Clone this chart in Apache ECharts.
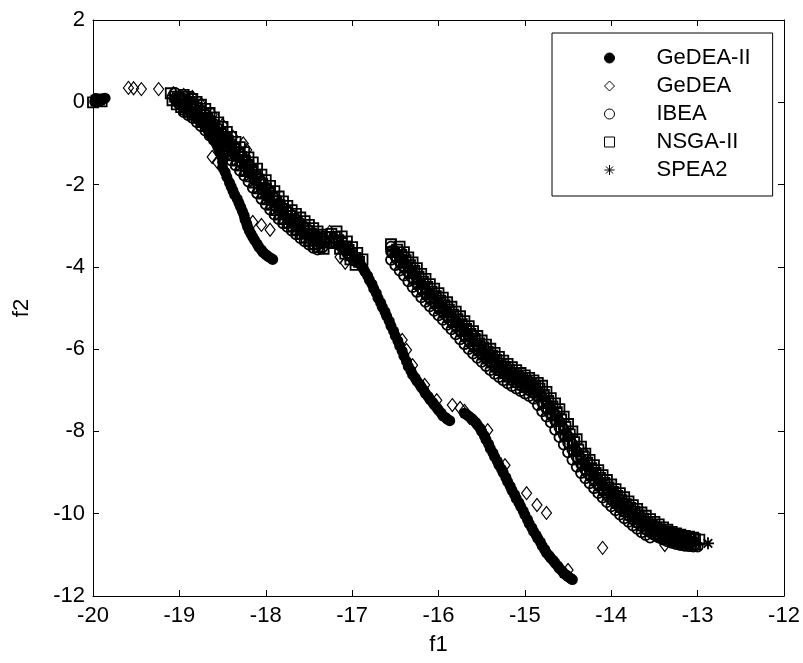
<!DOCTYPE html>
<html>
<head>
<meta charset="utf-8">
<script src="https://cdn.jsdelivr.net/npm/echarts@6/dist/echarts.min.js"></script>
<style>
html,body{margin:0;padding:0;background:#fff;}
#chart{width:803px;height:663px;}
</style>
</head>
<body>
<div id="chart"></div>
<script>
// ---------- data ----------
const seriesNames = ['GeDEA-II', 'GeDEA', 'IBEA', 'NSGA-II', 'SPEA2'];
const xTicks = { min: -20, max: -12, step: 1 };
const yTicks = { min: -12, max: 2, step: 2 };

const gedea2Points = [
  [-19.98,0.02],[-19.95,0.06],[-19.92,0.03],[-19.89,0.08],[-19.86,0.10],[-19.97,0.09],
  [-19.02,-0.02],[-18.97,-0.08],[-18.93,-0.14],[-18.89,-0.20],[-18.85,-0.27],[-18.81,-0.35],
  [-18.77,-0.43],[-18.73,-0.52],[-18.69,-0.62],[-18.66,-0.72],[-18.63,-0.82],[-18.60,-0.92],
  [-18.57,-1.02],[-18.55,-1.12],[-18.53,-1.22],[-18.51,-1.32],[-18.50,-1.45],
  [-18.90,-0.05],[-18.80,-0.20],[-18.70,-0.40],[-18.60,-0.62],[-18.50,-0.85],[-18.45,-1.00],[-18.40,-1.10],
  [-18.50,-1.58],[-18.47,-1.70],[-18.45,-1.82],[-18.42,-1.95],[-18.40,-2.05],[-18.38,-2.15],
  [-18.36,-2.25],[-18.33,-2.35],[-18.31,-2.45],[-18.29,-2.55],[-18.27,-2.65],[-18.25,-2.75],
  [-18.24,-2.85],[-18.22,-2.95],[-18.21,-3.03],[-18.19,-3.12],[-18.17,-3.20],[-18.15,-3.28],
  [-18.13,-3.35],[-18.10,-3.44],[-18.08,-3.52],[-18.05,-3.59],[-18.03,-3.65],[-18.00,-3.70],
  [-17.97,-3.75],[-17.94,-3.79],[-17.92,-3.82],
  [-16.95,-3.82],[-16.92,-3.89],[-16.90,-3.95],[-16.87,-4.04],[-16.85,-4.12],[-16.82,-4.22],
  [-16.80,-4.32],[-16.77,-4.42],[-16.75,-4.53],[-16.72,-4.64],[-16.70,-4.76],[-16.67,-4.87],
  [-16.65,-4.98],[-16.62,-5.09],[-16.60,-5.20],[-16.57,-5.32],[-16.55,-5.44],[-16.52,-5.56],
  [-16.50,-5.68],[-16.47,-5.80],[-16.45,-5.92],[-16.42,-6.05],[-16.40,-6.17],[-16.37,-6.30],
  [-16.35,-6.42],[-16.32,-6.52],[-16.30,-6.62],[-16.27,-6.70],[-16.25,-6.78],[-16.22,-6.85],
  [-16.20,-6.92],[-16.17,-7.00],[-16.15,-7.08],[-16.12,-7.15],[-16.10,-7.22],[-16.07,-7.29],
  [-16.05,-7.35],[-16.02,-7.42],[-16.00,-7.48],[-15.97,-7.55],[-15.95,-7.62],[-15.92,-7.66],
  [-15.90,-7.70],[-15.87,-7.74],
  [-15.70,-7.56],[-15.67,-7.60],[-15.65,-7.63],[-15.62,-7.68],[-15.60,-7.72],[-15.57,-7.78],
  [-15.55,-7.84],[-15.52,-7.92],[-15.50,-8.00],[-15.47,-8.10],[-15.45,-8.20],[-15.42,-8.31],
  [-15.40,-8.42],[-15.37,-8.52],[-15.35,-8.62],[-15.32,-8.72],[-15.30,-8.82],[-15.27,-8.92],
  [-15.25,-9.01],[-15.22,-9.12],[-15.20,-9.22],[-15.17,-9.33],[-15.15,-9.43],[-15.12,-9.53],
  [-15.10,-9.63],[-15.07,-9.73],[-15.05,-9.82],[-15.02,-9.93],[-15.00,-10.03],[-14.97,-10.14],
  [-14.95,-10.24],[-14.92,-10.34],[-14.90,-10.43],[-14.87,-10.52],[-14.85,-10.60],[-14.82,-10.69],
  [-14.80,-10.78],[-14.77,-10.87],[-14.75,-10.95],[-14.72,-11.02],[-14.70,-11.08],[-14.67,-11.14],
  [-14.65,-11.20],[-14.62,-11.27],[-14.60,-11.33],[-14.57,-11.39],[-14.55,-11.45],[-14.52,-11.49],
  [-14.50,-11.53],[-14.47,-11.57],[-14.45,-11.60]
];

const gedeaPoints = [
  [-19.59,0.35],[-19.53,0.34],[-19.44,0.32],[-19.24,0.32],[-19.07,0.22],[-18.95,0.18],
  [-18.85,0.13],[-18.75,-0.05],[-18.62,-0.30],[-18.50,-0.55],[-18.38,-0.84],[-18.26,-1.00],
  [-18.22,-1.16],[-18.62,-1.33],[-18.56,-1.45],[-18.18,-1.57],[-18.10,-1.80],[-17.95,-2.13],
  [-17.84,-2.45],[-17.72,-2.67],[-18.15,-2.91],[-18.05,-2.98],[-17.95,-3.10],[-17.62,-3.00],
  [-17.52,-3.15],[-17.41,-3.23],[-17.26,-3.15],[-17.14,-3.76],[-17.08,-3.90],
  [-16.42,-5.78],[-16.37,-6.02],[-16.30,-6.39],[-16.16,-6.87],[-16.02,-7.24],
  [-15.84,-7.36],[-15.75,-7.43],[-15.70,-7.50],[-15.64,-7.67],[-15.43,-7.97],[-15.23,-8.82],
  [-14.98,-9.50],[-14.86,-9.79],[-14.75,-9.98],[-14.10,-10.83],[-14.50,-11.37],[-13.38,-10.76],
  [-16.40,-3.70],[-15.60,-5.65],[-14.90,-6.88],[-14.30,-8.55],[-13.20,-10.58]
];

const ibeaUpperBand = [
  [-19.00,-0.02],[-18.92,-0.12],[-18.84,-0.25],[-18.76,-0.40],[-18.68,-0.55],[-18.60,-0.72],
  [-18.52,-0.90],[-18.44,-1.08],[-18.36,-1.28],[-18.28,-1.48],[-18.20,-1.68],[-18.12,-1.90],
  [-18.04,-2.12],[-17.96,-2.33],[-17.88,-2.54],[-17.80,-2.72],[-17.72,-2.88],[-17.64,-3.03],
  [-17.56,-3.18],[-17.48,-3.32],[-17.40,-3.45],[-17.34,-3.52],
  [-19.05,0.23],[-18.95,0.09],[-18.85,-0.03],[-18.75,-0.20],[-18.65,-0.41],[-18.55,-0.64],
  [-18.45,-0.88],[-18.35,-1.13],[-18.25,-1.38],[-18.15,-1.65],[-18.05,-1.93],[-17.95,-2.20],
  [-17.85,-2.45],[-17.75,-2.66],[-17.65,-2.84],[-17.55,-3.02],[-17.45,-3.18],[-17.35,-3.31],
  [-19.00,0.14],[-18.90,0.04],[-18.80,-0.10],[-18.70,-0.30],[-18.60,-0.53],[-18.50,-0.76],
  [-18.40,-1.00],[-18.30,-1.25],[-18.20,-1.50],[-18.10,-1.80],[-18.00,-2.07],[-17.90,-2.33],
  [-17.80,-2.56],[-17.70,-2.75],[-17.60,-2.93],[-17.50,-3.10],[-17.40,-3.26],
  [-18.95,-0.24],[-18.90,-0.31],[-18.85,-0.38],[-18.80,-0.48],[-18.75,-0.58],[-18.70,-0.69],
  [-18.65,-0.81],[-18.60,-0.92],[-18.55,-1.04],[-18.50,-1.16],[-18.45,-1.28],[-18.40,-1.41],
  [-18.35,-1.53],[-18.30,-1.66],[-18.25,-1.78],[-18.20,-1.93],[-18.15,-2.08],[-18.10,-2.21],
  [-18.05,-2.35],[-18.00,-2.48],[-17.95,-2.61],[-17.90,-2.73],[-17.85,-2.84],[-17.80,-2.94],
  [-17.75,-3.03],[-17.70,-3.12],[-17.65,-3.21],[-17.60,-3.30],[-17.55,-3.38],[-17.50,-3.46],
  [-17.45,-3.54],[-17.40,-3.58],
  [-17.22,-3.30],[-17.14,-3.48],[-17.06,-3.66],[-16.98,-3.85]
];

const ibeaRightBand = [
  [-16.55,-3.62],[-16.50,-3.75],[-16.45,-3.88],[-16.40,-4.01],[-16.35,-4.14],[-16.30,-4.28],
  [-16.25,-4.41],[-16.20,-4.53],[-16.15,-4.65],[-16.10,-4.76],[-16.05,-4.87],[-16.00,-4.98],
  [-15.95,-5.09],[-15.90,-5.20],[-15.85,-5.32],[-15.80,-5.43],[-15.75,-5.55],[-15.70,-5.67],
  [-15.65,-5.79],[-15.60,-5.91],[-15.55,-6.02],[-15.50,-6.12],[-15.45,-6.22],[-15.40,-6.32],
  [-15.35,-6.42],[-15.30,-6.51],[-15.25,-6.59],[-15.20,-6.67],[-15.15,-6.75],[-15.10,-6.82],
  [-15.05,-6.88],[-15.00,-6.94],[-14.95,-7.00],[-14.90,-7.07],[-14.85,-7.15],[-14.80,-7.30],
  [-14.75,-7.45],[-14.70,-7.58],[-14.65,-7.73],[-14.60,-7.90],[-14.55,-8.08],[-14.50,-8.27],
  [-14.45,-8.45],[-14.40,-8.62],[-14.35,-8.79],[-14.30,-8.94],[-14.25,-9.07],[-14.20,-9.19],
  [-14.15,-9.31],[-14.10,-9.43],[-14.05,-9.54],[-14.00,-9.65],[-13.95,-9.75],[-13.90,-9.85],
  [-13.85,-9.95],[-13.80,-10.04],[-13.75,-10.13],[-13.70,-10.22],[-13.65,-10.30],[-13.60,-10.38],
  [-13.55,-10.45],[-13.50,-10.52],[-13.45,-10.58],[-13.40,-10.63],[-13.35,-10.67],[-13.30,-10.71],
  [-13.25,-10.74],[-13.20,-10.76],[-13.15,-10.78],[-13.10,-10.79],[-13.05,-10.80],[-13.00,-10.80],
  [-16.55,-3.51],[-16.50,-3.63],[-16.45,-3.76],[-16.40,-3.89],[-16.35,-4.01],[-16.30,-4.15],
  [-16.25,-4.29],[-16.20,-4.41],[-16.15,-4.54],[-16.10,-4.65],[-16.05,-4.76],[-16.00,-4.87],
  [-15.95,-4.98],[-15.90,-5.09],[-15.85,-5.21],[-15.80,-5.32],[-15.75,-5.44],[-15.70,-5.56],
  [-15.65,-5.68],[-15.60,-5.80],[-15.55,-5.91],[-15.50,-6.01],[-15.45,-6.11],[-15.40,-6.21],
  [-15.35,-6.31],[-15.30,-6.40],[-15.25,-6.48],[-15.20,-6.56],[-15.15,-6.63],[-15.10,-6.70],
  [-15.05,-6.76],[-15.00,-6.82],[-14.95,-6.88],[-14.90,-6.94],[-14.85,-7.01],[-14.80,-7.16],
  [-14.75,-7.31],[-14.70,-7.44],[-14.65,-7.58],[-14.60,-7.76],[-14.55,-7.94],[-14.50,-8.12],
  [-14.45,-8.31],[-14.40,-8.49],[-14.35,-8.66],[-14.30,-8.81],[-14.25,-8.94],[-14.20,-9.06],
  [-14.15,-9.18],[-14.10,-9.30],[-14.05,-9.41],[-14.00,-9.52],[-13.95,-9.62],[-13.90,-9.72],
  [-13.85,-9.82],[-13.80,-9.91],[-13.75,-10.00],[-13.70,-10.09],[-13.65,-10.17],[-13.60,-10.25],
  [-13.55,-10.32],[-13.50,-10.38],[-13.45,-10.44],[-13.40,-10.49],[-13.35,-10.53],[-13.30,-10.57],
  [-13.25,-10.60],[-13.20,-10.62],[-13.15,-10.64],[-13.10,-10.66],[-13.05,-10.67],
  [-16.55,-3.83],[-16.50,-3.96],[-16.45,-4.09],[-16.40,-4.21],[-16.35,-4.35],[-16.30,-4.49],
  [-16.25,-4.61],[-16.20,-4.74],[-16.15,-4.85],[-16.10,-4.96],[-16.05,-5.07],[-16.00,-5.18],
  [-15.95,-5.29],[-15.90,-5.41],[-15.85,-5.52],[-15.80,-5.64],[-15.75,-5.76],[-15.70,-5.88],
  [-15.65,-6.00],[-15.60,-6.11],[-15.55,-6.21],[-15.50,-6.31],[-15.45,-6.41],[-15.40,-6.51],
  [-15.35,-6.60],[-15.30,-6.68],[-15.25,-6.76],[-15.20,-6.83],[-15.15,-6.90],[-15.10,-6.96],
  [-15.05,-7.02],[-15.00,-7.08],[-14.95,-7.14],[-14.90,-7.21],[-14.85,-7.36],[-14.80,-7.51],
  [-14.75,-7.64],[-14.70,-7.78],[-14.65,-7.96],[-14.60,-8.14],[-14.55,-8.32],[-14.50,-8.51],
  [-14.45,-8.69],[-14.40,-8.86],[-14.35,-9.01],[-14.30,-9.14],[-14.25,-9.26],[-14.20,-9.38],
  [-14.15,-9.50],[-14.10,-9.61],[-14.05,-9.72],[-14.00,-9.82],[-13.95,-9.92],[-13.90,-10.02],
  [-13.85,-10.11],[-13.80,-10.20],[-13.75,-10.29],[-13.70,-10.37],[-13.65,-10.45],[-13.60,-10.52],
  [-13.55,-10.58]
];

const nsga2UpperBand = [
  [-20.00,0.00],[-19.96,0.04],[-19.93,0.07],[-19.90,0.02],
  [-19.10,0.22],[-19.05,0.14],[-19.02,0.10],[-18.98,0.06],[-18.93,0.02],[-18.88,-0.02],
  [-18.84,-0.09],[-18.80,-0.14],[-18.76,-0.22],[-18.72,-0.30],[-18.68,-0.38],[-18.64,-0.47],
  [-18.60,-0.56],[-18.56,-0.66],[-18.52,-0.75],[-18.48,-0.85],[-18.44,-0.94],[-18.40,-1.03],
  [-18.36,-1.13],[-18.32,-1.23],[-18.28,-1.33],[-18.24,-1.43],[-18.20,-1.53],[-18.16,-1.64],
  [-18.12,-1.76],[-18.08,-1.88],[-18.04,-1.99],[-18.00,-2.10],[-17.96,-2.20],[-17.92,-2.31],
  [-17.88,-2.41],[-17.84,-2.50],[-17.80,-2.59],[-17.76,-2.68],[-17.72,-2.76],[-17.68,-2.84],
  [-17.64,-2.92],[-17.60,-2.99],[-17.56,-3.07],[-17.52,-3.14],[-17.48,-3.21],[-17.44,-3.28],
  [-17.40,-3.33],[-17.36,-3.38],[-17.32,-3.41],
  [-19.08,0.05],[-19.03,-0.05],[-18.98,-0.12],[-18.93,-0.17],[-18.88,-0.23],[-18.83,-0.30],
  [-18.78,-0.38],[-18.73,-0.48],[-18.68,-0.58],[-18.63,-0.70],[-18.58,-0.81],[-18.53,-0.93],
  [-18.48,-1.05],[-18.43,-1.17],[-18.38,-1.29],[-18.33,-1.42],[-18.28,-1.54],[-18.23,-1.67],
  [-18.18,-1.80],[-18.13,-1.95],[-18.08,-2.09],[-18.03,-2.22],[-17.98,-2.36],[-17.93,-2.49],
  [-17.88,-2.62],[-17.83,-2.73],[-17.78,-2.84],[-17.73,-2.93],[-17.68,-3.02],[-17.63,-3.11],
  [-17.58,-3.20],[-17.53,-3.29],[-17.48,-3.37],[-17.43,-3.45],[-17.38,-3.52],[-17.33,-3.56],
  [-18.95,0.18],[-18.90,0.13],[-18.85,0.08],[-18.80,0.01],[-18.75,-0.06],[-18.70,-0.16],
  [-18.65,-0.26],[-18.60,-0.37],[-18.55,-0.49],[-18.50,-0.60],[-18.45,-0.72],[-18.40,-0.84],
  [-18.35,-0.96],[-18.30,-1.09],[-18.25,-1.21],[-18.20,-1.34],[-18.15,-1.46],[-18.10,-1.61],
  [-18.05,-1.76],[-18.00,-1.89],[-17.95,-2.03],[-17.90,-2.16],[-17.85,-2.29],[-17.80,-2.41],
  [-17.75,-2.52],[-17.70,-2.62],[-17.65,-2.71],[-17.60,-2.80],[-17.55,-2.89],[-17.50,-2.98],
  [-17.45,-3.06],[-17.40,-3.14],[-17.35,-3.22],[-17.30,-3.27],
  [-17.24,-3.20],[-17.20,-3.27],[-17.16,-3.35],[-17.12,-3.42],[-17.08,-3.50],[-17.04,-3.59],
  [-17.00,-3.68],[-16.96,-3.78],[-16.92,-3.88],[-17.18,-3.38],[-17.10,-3.55],[-17.02,-3.72],
  [-17.26,-3.28],[-17.20,-3.42],[-17.14,-3.56],[-17.08,-3.68],[-17.02,-3.82],[-16.96,-3.95],
  [-17.18,-3.14],[-17.12,-3.26],[-17.06,-3.38],[-17.00,-3.52],[-16.94,-3.66],[-16.88,-3.82]
];

const nsga2RightBand = [
  [-16.55,-3.45],[-16.48,-3.58],[-16.43,-3.71],[-16.38,-3.84],[-16.33,-3.96],[-16.28,-4.10],
  [-16.23,-4.24],[-16.18,-4.36],[-16.13,-4.49],[-16.08,-4.60],[-16.03,-4.71],[-15.98,-4.82],
  [-15.93,-4.93],[-15.88,-5.04],[-15.83,-5.16],[-15.78,-5.27],[-15.73,-5.39],[-15.68,-5.51],
  [-15.63,-5.63],[-15.58,-5.75],[-15.53,-5.86],[-15.48,-5.96],[-15.43,-6.06],[-15.38,-6.16],
  [-15.33,-6.26],[-15.28,-6.35],[-15.23,-6.43],[-15.18,-6.51],[-15.13,-6.58],[-15.08,-6.65],
  [-15.03,-6.71],[-14.98,-6.77],[-14.93,-6.83],[-14.88,-6.89],[-14.83,-6.96],[-14.78,-7.11],
  [-14.73,-7.26],[-14.68,-7.39],[-14.63,-7.53],[-14.58,-7.71],[-14.53,-7.89],[-14.48,-8.07],
  [-14.43,-8.26],[-14.38,-8.44],[-14.33,-8.61],[-14.28,-8.76],[-14.23,-8.89],[-14.18,-9.01],
  [-14.13,-9.13],[-14.08,-9.25],[-14.03,-9.36],[-13.98,-9.47],[-13.93,-9.57],[-13.88,-9.67],
  [-13.83,-9.77],[-13.78,-9.86],[-13.73,-9.95],[-13.68,-10.04],[-13.63,-10.12],[-13.58,-10.20],
  [-13.53,-10.27],[-13.48,-10.33],[-13.43,-10.39],[-13.38,-10.44],[-13.33,-10.48],[-13.28,-10.52],
  [-13.23,-10.55],[-13.18,-10.57],[-13.13,-10.59],[-13.08,-10.61],[-13.03,-10.62],[-12.98,-10.63],
  [-16.53,-3.64],[-16.48,-3.77],[-16.43,-3.90],[-16.38,-4.02],[-16.33,-4.15],[-16.28,-4.29],
  [-16.23,-4.42],[-16.18,-4.55],[-16.13,-4.67],[-16.08,-4.78],[-16.03,-4.89],[-15.98,-5.00],
  [-15.93,-5.11],[-15.88,-5.22],[-15.83,-5.34],[-15.78,-5.45],[-15.73,-5.57],[-15.68,-5.69],
  [-15.63,-5.81],[-15.58,-5.93],[-15.53,-6.03],[-15.48,-6.13],[-15.43,-6.23],[-15.38,-6.33],
  [-15.33,-6.43],[-15.28,-6.51],[-15.23,-6.59],[-15.18,-6.67],[-15.13,-6.74],[-15.08,-6.80],
  [-15.03,-6.86],[-14.98,-6.92],[-14.93,-6.98],[-14.88,-7.04],[-14.83,-7.15],[-14.78,-7.31],
  [-14.73,-7.45],[-14.68,-7.58],[-14.63,-7.74],[-14.58,-7.92],[-14.53,-8.10],[-14.48,-8.28],
  [-14.43,-8.47],[-14.38,-8.65],[-14.33,-8.81],[-14.28,-8.95],[-14.23,-9.07],[-14.18,-9.19],
  [-14.13,-9.31],[-14.08,-9.43],[-14.03,-9.54],[-13.98,-9.64],[-13.93,-9.74],[-13.88,-9.84],
  [-13.83,-9.94],[-13.78,-10.03],[-13.73,-10.12],[-13.68,-10.20],[-13.63,-10.28],[-13.58,-10.36],
  [-13.53,-10.42],[-13.48,-10.48],[-13.43,-10.54],[-13.38,-10.58],[-13.33,-10.62],[-13.28,-10.66],
  [-13.23,-10.68],[-13.18,-10.70],[-13.13,-10.72],[-13.08,-10.74],[-13.03,-10.75],
  [-16.45,-3.51],[-16.40,-3.64],[-16.35,-3.77],[-16.30,-3.89],[-16.25,-4.03],[-16.20,-4.17],
  [-16.15,-4.29],[-16.10,-4.42],[-16.05,-4.53],[-16.00,-4.64],[-15.95,-4.75],[-15.90,-4.86],
  [-15.85,-4.97],[-15.80,-5.09],[-15.75,-5.20],[-15.70,-5.32],[-15.65,-5.44],[-15.60,-5.56],
  [-15.55,-5.68],[-15.50,-5.79],[-15.45,-5.89],[-15.40,-5.99],[-15.35,-6.09],[-15.30,-6.19],
  [-15.25,-6.28],[-15.20,-6.36],[-15.15,-6.44],[-15.10,-6.51],[-15.05,-6.58],[-15.00,-6.64],
  [-14.95,-6.70],[-14.90,-6.76],[-14.85,-6.82],[-14.80,-6.89],[-14.75,-7.04],[-14.70,-7.19],
  [-14.65,-7.32],[-14.60,-7.46],[-14.55,-7.64],[-14.50,-7.82],[-14.45,-8.00],[-14.40,-8.19],
  [-14.35,-8.37],[-14.30,-8.54],[-14.25,-8.69],[-14.20,-8.82],[-14.15,-8.94],[-14.10,-9.06],
  [-14.05,-9.18],[-14.00,-9.29],[-13.95,-9.40],[-13.90,-9.50],[-13.85,-9.60],[-13.80,-9.70],
  [-13.75,-9.79],[-13.70,-9.88],[-13.65,-9.97],[-13.60,-10.05],[-13.55,-10.13],[-13.50,-10.20],
  [-13.45,-10.26],[-13.40,-10.33],[-13.35,-10.39],[-13.30,-10.44],[-13.25,-10.48],[-13.20,-10.51],
  [-13.15,-10.54],[-13.10,-10.56],[-13.05,-10.58]
];

const spea2Points = [
  [-19.05,0.08],[-18.95,-0.06],[-18.85,-0.20],[-18.75,-0.36],[-18.65,-0.58],[-18.55,-0.82],
  [-18.45,-1.05],[-18.35,-1.30],[-18.25,-1.55],[-18.15,-1.82],[-18.05,-2.10],[-17.95,-2.37],
  [-17.85,-2.62],[-17.75,-2.82],[-17.65,-3.00],[-17.55,-3.18],[-17.45,-3.36],[-17.38,-3.48],
  [-19.00,-0.03],[-18.90,-0.13],[-18.80,-0.27],[-18.70,-0.47],[-18.60,-0.70],[-18.50,-0.93],
  [-18.40,-1.17],[-18.30,-1.42],[-18.20,-1.67],[-18.10,-1.97],[-18.00,-2.24],[-17.90,-2.50],
  [-17.80,-2.73],[-17.70,-2.92],[-17.60,-3.10],[-17.50,-3.27],[-17.40,-3.43],
  [-16.52,-3.60],[-16.42,-3.86],[-16.32,-4.13],[-16.22,-4.40],[-16.12,-4.64],[-16.02,-4.87],
  [-15.92,-5.09],[-15.82,-5.31],[-15.72,-5.55],[-15.62,-5.79],[-15.52,-6.01],[-15.42,-6.21],
  [-15.32,-6.40],[-15.22,-6.57],[-15.12,-6.71],[-15.02,-6.84],[-14.92,-6.96],[-14.82,-7.13],
  [-14.72,-7.43],[-14.62,-7.73],[-14.52,-8.08],[-14.42,-8.46],[-14.32,-8.79],[-14.22,-9.05],
  [-14.12,-9.29],[-14.02,-9.52],[-13.92,-9.72],[-13.82,-9.91],[-13.72,-10.09],[-13.62,-10.26],
  [-13.52,-10.40],[-13.42,-10.51],[-13.32,-10.59],[-13.22,-10.65],[-13.12,-10.69],[-13.02,-10.71],
  [-12.88,-10.72]
];

// ---------- chart ----------
const FONT = 'Liberation Sans, Arial, sans-serif';
const STAR = 'path://M0,-10L0,10M-10,0L10,0M-7.07,-7.07L7.07,7.07M-7.07,7.07L7.07,-7.07';
const hollow = { color: 'rgba(0,0,0,0)', borderColor: '#000', borderWidth: 1.8, opacity: 1 };

function axisCommon(show) {
  return {
    type: 'value',
    axisLine: { show: true, onZero: false, lineStyle: { color: '#000', width: 1 } },
    axisTick: { show: true, inside: true, length: 6, lineStyle: { color: '#000', width: 1 } },
    splitLine: { show: false },
    axisLabel: { show: show, color: '#000', fontSize: 22, fontFamily: FONT }
  };
}

const chart = echarts.init(document.getElementById('chart'), null, { renderer: 'canvas' });
const option = {
  animation: false,
  backgroundColor: '#fff',
  grid: { left: 93, right: 19, top: 20, bottom: 67 },
  xAxis: [
    Object.assign(axisCommon(true), {
      min: xTicks.min, max: xTicks.max, interval: xTicks.step, position: 'bottom',
      name: 'f1', nameLocation: 'middle', nameGap: 38,
      nameTextStyle: { color: '#000', fontSize: 22, fontFamily: FONT },
      axisLabel: { show: true, color: '#000', fontSize: 22, fontFamily: FONT, margin: 9 }
    }),
    Object.assign(axisCommon(false), {
      min: xTicks.min, max: xTicks.max, interval: xTicks.step, position: 'top'
    })
  ],
  yAxis: [
    Object.assign(axisCommon(true), {
      min: yTicks.min, max: yTicks.max, interval: yTicks.step, position: 'left',
      name: 'f2', nameLocation: 'middle', nameGap: 60,
      nameTextStyle: { color: '#000', fontSize: 22, fontFamily: FONT },
      axisLabel: { show: true, color: '#000', fontSize: 22, fontFamily: FONT, margin: 8 }
    }),
    Object.assign(axisCommon(false), {
      min: yTicks.min, max: yTicks.max, interval: yTicks.step, position: 'right'
    })
  ],
  legend: {
    orient: 'vertical',
    left: 552, top: 33,
    padding: [11, 22, 12, 52],
    backgroundColor: '#fff',
    borderColor: '#000', borderWidth: 1, borderRadius: 0,
    itemWidth: 10, itemHeight: 10, itemGap: 0,
    itemStyle: { borderWidth: 1 },
    textStyle: { color: '#000', fontSize: 22, fontFamily: FONT, lineHeight: 28, padding: [0, 0, 0, 37] },
    data: seriesNames
  },
  series: [
    { name: seriesNames[0], type: 'scatter', data: gedea2Points, symbol: 'circle', symbolSize: 11,
      itemStyle: { color: '#000', borderColor: '#000', borderWidth: 0, opacity: 1 } },
    { name: seriesNames[1], type: 'scatter', data: gedeaPoints, symbol: 'diamond', symbolSize: [10, 13],
      itemStyle: { color: 'rgba(0,0,0,0)', borderColor: '#000', borderWidth: 1.2, opacity: 1 } },
    { name: seriesNames[2], type: 'scatter', data: ibeaUpperBand.concat(ibeaRightBand), symbol: 'circle', symbolSize: 10,
      itemStyle: hollow },
    { name: seriesNames[3], type: 'scatter', data: nsga2UpperBand.concat(nsga2RightBand), symbol: 'rect', symbolSize: 10,
      itemStyle: hollow },
    { name: seriesNames[4], type: 'scatter', data: spea2Points, symbol: STAR, symbolSize: 12,
      itemStyle: hollow }
  ]
};
chart.setOption(option);
</script>
</body>
</html>
